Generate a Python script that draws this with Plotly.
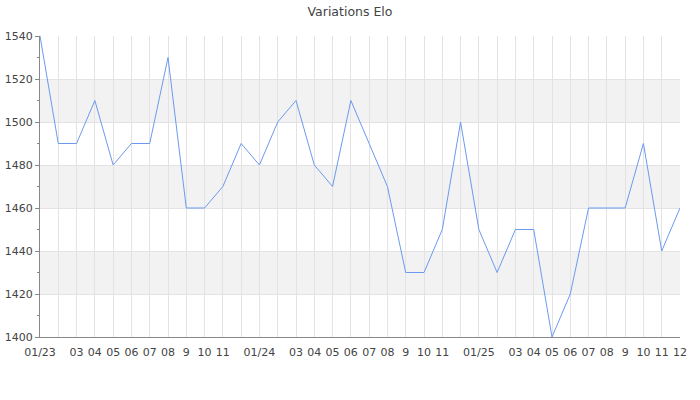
import plotly.graph_objects as go

# monthly elo values, 01/2023 -> 12/2025
months = [f"{y}-{m:02d}" for y in (2023, 2024, 2025) for m in range(1, 13)]
elo = [1540, 1490, 1490, 1510, 1480, 1490, 1490, 1530, 1460, 1460, 1470, 1490,
       1480, 1500, 1510, 1480, 1470, 1510, 1490, 1470, 1430, 1430, 1450, 1500,
       1450, 1430, 1450, 1450, 1400, 1420, 1460, 1460, 1460, 1490, 1440, 1460]
tick_labels = ["01/23", "", "03", "04", "05", "06", "07", "08", "9", "10", "11", "",
               "01/24", "", "03", "04", "05", "06", "07", "08", "9", "10", "11", "",
               "01/25", "", "03", "04", "05", "06", "07", "08", "9", "10", "11", "12"]
band_starts = [1420, 1460, 1500]

fig = go.Figure()
fig.add_trace(
    go.Scatter(
        x=list(range(len(months))),
        y=elo,
        mode="lines",
        line={"color": "#6b9af0", "width": 1},
        hovertext=months,
        showlegend=False,
    )
)

# alternating grey bands
for b in band_starts:
    fig.add_shape(
        type="rect", xref="paper", yref="y", x0=0, x1=1, y0=b, y1=b + 20,
        fillcolor="#f2f2f2", line_width=0, layer="below",
    )

fig.update_layout(
    title={"text": "Variations Elo", "x": 0.5, "xanchor": "center", "y": 0.971, "yanchor": "middle",
           "font": {"family": "DejaVu Sans", "size": 12.5, "color": "#444"}},
    width=700,
    height=400,
    margin={"l": 40, "r": 20, "t": 36, "b": 63, "autoexpand": False},
    plot_bgcolor="white",
    paper_bgcolor="white",
    font={"family": "DejaVu Sans", "size": 11, "color": "#444"},
    xaxis=dict(
        range=[0, len(months) - 1],
        tickvals=list(range(len(months))),
        ticktext=tick_labels,
        tickangle=0,
        automargin=False,
        showgrid=True,
        gridcolor="#e3e3e3",
        showline=True,
        linecolor="#888",
        linewidth=1,
        zeroline=False,
        ticks="outside",
        ticklen=5,
        tickcolor="rgba(0,0,0,0)",
    ),
    yaxis=dict(
        range=[1400, 1540],
        dtick=20,
        automargin=False,
        showgrid=True,
        gridcolor="#e3e3e3",
        showline=True,
        linecolor="#888",
        linewidth=1,
        zeroline=False,
        ticks="outside",
        ticklen=4,
        tickcolor="#888",
        minor=dict(dtick=10, ticks="outside", ticklen=2, tickcolor="#888", showgrid=False),
    ),
)

# drop the default 8px body margin so the figure sits at the page corner
fig.write_html(
    "out.html",
    config={"displayModeBar": False},
    post_script="document.body.style.margin = '0';",
)
